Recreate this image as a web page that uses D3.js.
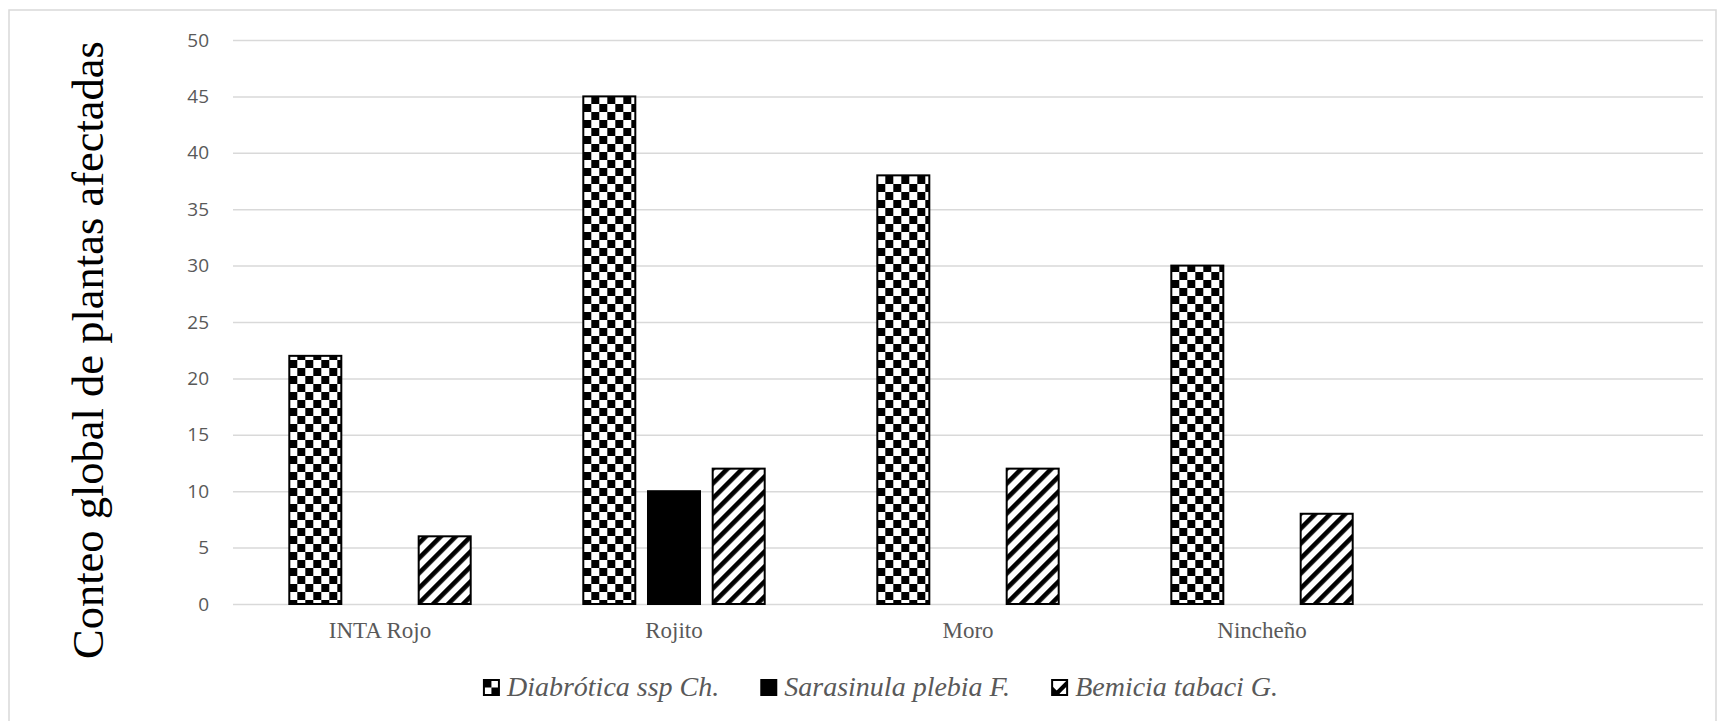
<!DOCTYPE html>
<html>
<head>
<meta charset="utf-8">
<script src="https://cdn.jsdelivr.net/npm/d3@7"></script>
<style>
  body { margin: 0; background: #fff; }
</style>
</head>
<body>
<svg width="1718" height="721"></svg>
<script>
const categories = ['INTA Rojo', 'Rojito', 'Moro', 'Nincheño', ''];
const series = ['Diabrótica ssp Ch.', 'Sarasinula plebia F.', 'Bemicia tabaci G.'];
const diabrotica = [22, 45, 38, 30, null];
const sarasinula = [0, 10, 0, 0, null];
const bemicia = [6, 12, 12, 8, null];
const yTicks = [0, 5, 10, 15, 20, 25, 30, 35, 40, 45, 50];
const yAxisLabel = 'Conteo global de plantas afectadas';

const serif = "'Liberation Serif', 'Times New Roman', serif";
const sans = "'Open Sans', 'Liberation Sans', sans-serif";

const svg = d3.select('svg');
const width = +svg.attr('width');
const height = +svg.attr('height');

const margin = { top: 40, right: 15, bottom: 117, left: 233 };
const innerWidth = width - margin.left - margin.right;
const innerHeight = height - margin.top - margin.bottom;

// chart border (bottom edge runs past the picture)
svg.append('path')
  .attr('d', `M9,${height} V10 H${width - 2} V${height}`)
  .attr('fill', 'none')
  .attr('stroke', '#d9d9d9')
  .attr('stroke-width', 1.5);

// patterns
const defs = svg.append('defs');
const checker = defs.append('pattern')
  .attr('id', 'checker')
  .attr('patternUnits', 'userSpaceOnUse')
  .attr('width', 16).attr('height', 16);
checker.append('rect').attr('width', 16).attr('height', 16).attr('fill', '#fff');
checker.append('rect').attr('x', 0).attr('y', 0).attr('width', 8).attr('height', 8).attr('fill', '#000');
checker.append('rect').attr('x', 8).attr('y', 8).attr('width', 8).attr('height', 8).attr('fill', '#000');

const hatch = defs.append('pattern')
  .attr('id', 'hatch')
  .attr('patternUnits', 'userSpaceOnUse')
  .attr('width', 10.6).attr('height', 10.6)
  .attr('patternTransform', 'rotate(45)');
hatch.append('rect').attr('width', 10.6).attr('height', 10.6).attr('fill', '#fff');
hatch.append('rect').attr('width', 4.6).attr('height', 10.6).attr('fill', '#000');

const fills = ['url(#checker)', '#000', 'url(#hatch)'];

const data = categories.map((c, i) => ({
  category: c,
  values: [diabrotica[i], sarasinula[i], bemicia[i]]
}));

const x0 = d3.scaleBand()
  .domain(categories)
  .range([0, innerWidth])
  .padding(0);

const groupWidth = x0.bandwidth() * 0.617;
const x1 = d3.scaleBand()
  .domain(series)
  .range([0, groupWidth])
  .paddingInner(0.196)
  .paddingOuter(0);

const yScale = d3.scaleLinear()
  .domain([0, 50])
  .range([innerHeight, 0]);

const g = svg.append('g')
  .attr('transform', `translate(${margin.left}, ${margin.top})`);

const yAxis = d3.axisLeft(yScale)
  .tickValues(yTicks)
  .tickSize(-innerWidth)
  .tickPadding(24);

const yAxisGroup = g.append('g').call(yAxis);
yAxisGroup.select('.domain').remove();
yAxisGroup.selectAll('.tick line')
  .attr('stroke', '#d9d9d9')
  .attr('stroke-width', 1.5);
yAxisGroup.selectAll('.tick text')
  .style('font-family', sans)
  .style('font-size', '19px')
  .attr('fill', '#595959');

// bars
const groups = g.selectAll('.group')
  .data(data)
  .join('g')
  .attr('class', 'group')
  .attr('transform', d => `translate(${x0(d.category) + (x0.bandwidth() - groupWidth) / 2}, 0)`);

groups.selectAll('rect')
  .data(d => d.values.map((v, j) => ({ key: series[j], value: v, idx: j })).filter(e => e.value > 0))
  .join('rect')
  .attr('x', d => x1(d.key))
  .attr('y', d => yScale(d.value))
  .attr('width', x1.bandwidth())
  .attr('height', d => innerHeight - yScale(d.value))
  .attr('fill', d => fills[d.idx])
  .attr('stroke', '#000')
  .attr('stroke-width', 2);

// category labels (the empty fifth slot gets no label)
g.selectAll('.cat')
  .data(categories.filter(c => c !== ''))
  .join('text')
  .attr('class', 'cat')
  .attr('x', d => x0(d) + x0.bandwidth() / 2)
  .attr('y', innerHeight + 34)
  .attr('text-anchor', 'middle')
  .style('font-family', serif)
  .style('font-size', '23px')
  .attr('fill', '#595959')
  .text(d => d);

// y axis title
svg.append('text')
  .attr('class', 'axis-title')
  .attr('transform', `translate(103, 350) rotate(-90)`)
  .attr('text-anchor', 'middle')
  .style('font-family', serif)
  .style('font-size', '44.5px')
  .attr('fill', '#000')
  .text(yAxisLabel);

// legend
const legend = svg.append('g').attr('class', 'legend');
const items = legend.selectAll('g')
  .data(series)
  .join('g');

const key = items.append('g').attr('transform', 'translate(0, -16)');
key.append('rect')
  .attr('width', 15).attr('height', 15)
  .attr('fill', (d, i) => i === 1 ? '#000' : '#fff')
  .attr('stroke', '#000')
  .attr('stroke-width', 2);
// checker key: two black quarters
key.filter((d, i) => i === 0).selectAll('.q')
  .data([[0, 0], [7.5, 7.5]])
  .join('rect')
  .attr('x', d => d[0]).attr('y', d => d[1])
  .attr('width', 7.5).attr('height', 7.5)
  .attr('fill', '#000');
// hatch key: diagonal band
key.filter((d, i) => i === 2).append('path')
  .attr('d', 'M0,15 L0,6 L9,15 Z M0,15 L15,0 L15,6 L6,15 Z')
  .attr('fill', '#000');

items.append('text')
  .attr('x', 23)
  .attr('y', 0)
  .style('font-family', serif)
  .style('font-style', 'italic')
  .style('font-size', '28px')
  .attr('fill', '#595959')
  .text(d => d);

let offset = 0;
const itemGap = 42;
items.each(function () {
  const w = 23 + d3.select(this).select('text').node().getComputedTextLength();
  d3.select(this).attr('transform', `translate(${offset}, 0)`);
  offset += w + itemGap;
});
const legendWidth = offset - itemGap;
legend.attr('transform', `translate(${881 - legendWidth / 2}, 696)`);
</script>
</body>
</html>
